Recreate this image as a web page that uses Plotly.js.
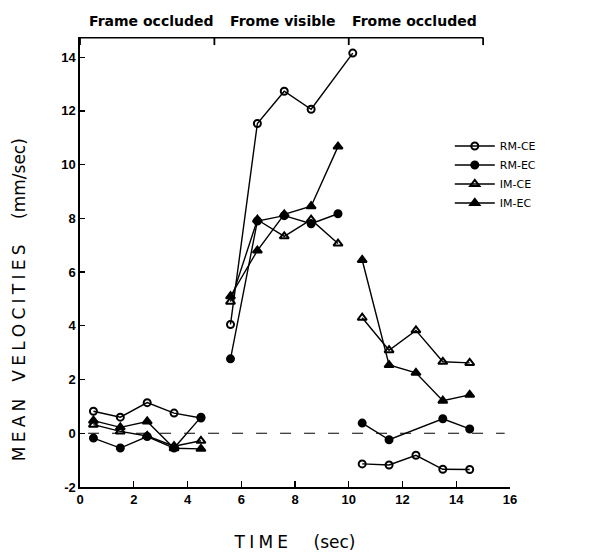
<!DOCTYPE html>
<html>
<head>
<meta charset="utf-8">
<script src="https://cdn.plot.ly/plotly-3.0.1.min.js"></script>
<style>html,body{margin:0;padding:0;background:#fff;} #chart{width:605px;height:558px;}</style>
</head>
<body>
<div id="chart"></div>
<script>
// ---- data (time in sec, mean velocity in mm/sec) ----
const seriesNames = ["RM-CE", "RM-EC", "IM-CE", "IM-EC"];

const occ1Time = [0.5, 1.5, 2.5, 3.5, 4.5];
const visTime = [5.6, 6.6, 7.6, 8.6, 9.6];
const visTimeRMCE = [5.6, 6.6, 7.6, 8.6, 10.15];
const occ2Time = [10.5, 11.5, 12.5, 13.5, 14.5];
const occ2TimeRMEC = [10.5, 11.5, 13.5, 14.5];

const rmce1 = [0.82, 0.6, 1.14, 0.75, 0.57];
const rmce2 = [4.05, 11.53, 12.73, 12.06, 14.15];
const rmce3 = [-1.14, -1.18, -0.82, -1.34, -1.35];

const rmec1 = [-0.18, -0.55, -0.12, -0.55, 0.6];
const rmec2 = [2.77, 7.9, 8.1, 7.8, 8.17];
const rmec3 = [0.38, -0.24, 0.54, 0.16];

const imce1 = [0.32, 0.07, -0.1, -0.48, -0.28];
const imce2 = [4.9, 7.95, 7.33, 7.95, 7.06];
const imce3 = [4.3, 3.09, 3.83, 2.66, 2.62];

const imec1 = [0.47, 0.22, 0.44, -0.56, -0.58];
const imec2 = [5.1, 6.8, 8.15, 8.45, 10.67];
const imec3 = [6.45, 2.54, 2.25, 1.21, 1.43];

const phaseBounds = [0, 5, 10, 15];
const phaseLabels = ["Frame occluded", "Frome visible", "Frome occluded"];
const phaseLabelX = [2.65, 7.55, 12.45];

const xTicks = [0, 2, 4, 6, 8, 10, 12, 14, 16];
const yTicks = [-2, 0, 2, 4, 6, 8, 10, 12, 14];
const xRange = [0, 16];
const yRange = [-2, 14.75];

// ---- helpers ----
function join(xs, ys) {
  const X = [], Y = [];
  for (let s = 0; s < xs.length; s++) {
    if (s > 0) { X.push(null); Y.push(null); }
    X.push(...xs[s]); Y.push(...ys[s]);
  }
  return {X, Y};
}
function spaced(word) { return word.split("").join("\u2005"); }

const symbols = ["circle-open", "circle", "triangle-up-open", "triangle-up"];
const sizes = [7, 7, 8, 8];
const xsAll = [
  [occ1Time, visTimeRMCE, occ2Time],
  [occ1Time, visTime, occ2TimeRMEC],
  [occ1Time, visTime, occ2Time],
  [occ1Time, visTime, occ2Time]
];
const ysAll = [
  [rmce1, rmce2, rmce3],
  [rmec1, rmec2, rmec3],
  [imce1, imce2, imce3],
  [imec1, imec2, imec3]
];

const traces = seriesNames.map((nm, i) => {
  const d = join(xsAll[i], ysAll[i]);
  return {
    type: "scatter", mode: "lines+markers", name: nm,
    x: d.X, y: d.Y, connectgaps: false,
    line: {color: "#000", width: 1.4},
    marker: {symbol: symbols[i], size: sizes[i], color: "#000",
             line: {color: "#000", width: 2}}
  };
});

// phase bracket across the top, built from phaseBounds
const bx = [], by = [];
const bracketY = yRange[1] - 0.02, tickDrop = 0.28;
bx.push(phaseBounds[0], phaseBounds[phaseBounds.length - 1]); by.push(bracketY, bracketY);
phaseBounds.forEach(b => { bx.push(null, b, b); by.push(null, bracketY, bracketY - tickDrop); });
traces.push({
  type: "scatter", mode: "lines", x: bx, y: by, showlegend: false,
  line: {color: "#000", width: 1.8}
});

const tickFont = {family: "Liberation Sans, Arial, sans-serif", size: 13, color: "#000"};

const shapes = [
  // dashed zero reference
  {type: "line", xref: "x", yref: "y", x0: 0.3, x1: 15.8, y0: 0, y1: 0,
   line: {color: "#000", width: 1.2, dash: "11px,13px"}}
];

const titleFont = {family: "DejaVu Sans, sans-serif", size: 17, color: "#000"};
const annotations = phaseLabels.map((t, i) => ({
  text: "<b>" + t + "</b>", x: phaseLabelX[i], xref: "x", y: 1, yref: "paper",
  yanchor: "bottom", yshift: 6, showarrow: false,
  font: {family: "DejaVu Sans, sans-serif", size: 14, color: "#000"}
}));
annotations.push({
  text: spaced("MEAN") + "\u2002\u2002" + spaced("VELOCITIES") + "\u2003\u2002(mm/sec)",
  textangle: -90, xref: "paper", x: 0, xanchor: "center", xshift: -61,
  yref: "paper", y: 0.415, yanchor: "middle", showarrow: false, font: titleFont
});

const layout = {
  width: 605, height: 558,
  margin: {l: 80, r: 95, t: 37, b: 71},
  showlegend: true,
  legend: {x: 0.86, y: 0.79, xanchor: "left", yanchor: "top",
           tracegroupgap: 0,
           font: {family: "DejaVu Sans, sans-serif", size: 11, color: "#000"},
           bgcolor: "rgba(0,0,0,0)", itemwidth: 40},
  xaxis: {
    range: xRange, tickvals: xTicks, ticktext: xTicks.map(v => "<b>" + v + "</b>"),
    showline: true, linecolor: "#000", linewidth: 1.6,
    ticks: "inside", ticklen: 6, tickwidth: 1.3, tickcolor: "#000",
    showgrid: false, zeroline: false, tickfont: tickFont,
    title: {text: spaced("TIME") + "\u2003\u2002(sec)", standoff: 30, font: titleFont}
  },
  yaxis: {
    range: yRange, tickvals: yTicks, ticktext: yTicks.map(v => "<b>" + v + "</b>"),
    showline: true, linecolor: "#000", linewidth: 1.6,
    ticks: "inside", ticklen: 5, tickwidth: 1.3, tickcolor: "#000",
    showgrid: false, zeroline: false, tickfont: tickFont
  },
  shapes: shapes,
  annotations: annotations
};

Plotly.newPlot("chart", traces, layout, {displayModeBar: false, staticPlot: true});
</script>
</body>
</html>
